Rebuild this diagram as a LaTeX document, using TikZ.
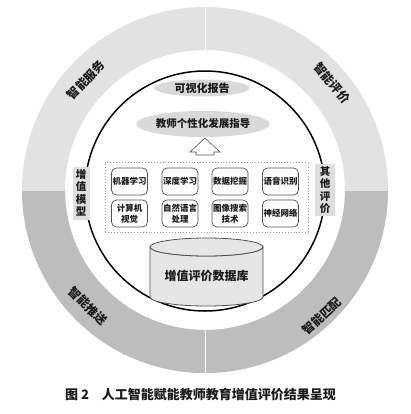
\documentclass[tikz,border=0pt]{standalone}
\usepackage{fontspec}
\setmainfont{Noto Sans CJK SC}
\usepackage{xcolor}
\usepackage{tikz}
\usetikzlibrary{shapes.geometric}
\definecolor{ringhi}{HTML}{E2E2E2}
\definecolor{ringlo}{HTML}{BDBDBD}
\definecolor{oval}{HTML}{D9D9D9}
\definecolor{tag}{HTML}{DEDEDE}
\definecolor{dbfill}{HTML}{E6E6E6}
\definecolor{edge}{HTML}{505050}
\definecolor{thin}{HTML}{9A9A9A}
\definecolor{ink}{HTML}{1A1A1A}
\tikzset{
  ringlab/.style={text=ink, font=\bfseries\fontsize{12}{12}\selectfont, inner sep=0pt},
  ovalnode/.style={ellipse, fill=oval, inner sep=0pt, text=ink, font=\bfseries\fontsize{10.5}{10.5}\selectfont},
  tagbox/.style={fill=tag, text=ink, align=center, inner sep=2pt, font=\bfseries\fontsize{10.5}{12.5}\selectfont},
  techbox/.style={draw=edge, fill=white, rounded corners=5pt, line width=0.7pt, minimum width=36pt, minimum height=27pt, inner sep=0pt, align=center, text=ink, font=\bfseries\fontsize{8.5}{11}\selectfont},
  dotframe/.style={draw=thin, dotted, line width=0.9pt, minimum width=203pt, minimum height=70pt, inner sep=0pt},
  cyl/.style={draw=edge, fill=dbfill, line width=0.8pt},
  uparrow/.style={draw=edge, fill=white, line width=0.6pt, line join=miter},
}

\begin{document}
\begin{tikzpicture}[x=1pt,y=-1pt]
  \useasboundingbox (0,0) rectangle (410,414);
  \coordinate (c) at (205,190);
  % outer ring, light top half and dark bottom half
  \fill[ringhi, even odd rule] (c) circle (183) (c) circle (140);
  \begin{scope}
    \clip (0,191) rectangle (410,380);
    \fill[ringlo, even odd rule] (c) circle (183) (c) circle (140);
  \end{scope}
  \draw[white, line width=1pt] (205,0) -- (205,55);
  \draw[white, line width=1pt] (205,325) -- (205,380);
  \node[ringlab, rotate=47] (serve) at (86,80) {智能服务};
  \node[ringlab, rotate=-50] (judge) at (332,83) {智能评价};
  \node[ringlab, rotate=-45] (push) at (88,306) {智能推送};
  \node[ringlab, rotate=43] (match) at (322,316) {智能匹配};
  % inner circle
  \draw[thin, line width=1.5pt] (205,191) circle (120);
  \node[tagbox, minimum width=17pt, minimum height=53pt] (model) at (81,193) {增\\值\\模\\型};
  \node[tagbox, minimum width=20pt, minimum height=50pt] (other) at (325,190) {其\\他\\评\\价};
  % report and guidance
  \node[ovalnode, minimum width=95pt, minimum height=17pt, font=\bfseries\fontsize{11}{11}\selectfont] (report) at (202,88) {可视化报告};
  \node[ovalnode, minimum width=120pt, minimum height=26pt] (guide) at (203,124) {教师个性化发展指导};
  \draw[uparrow] (190,152) -- (205,138) -- (220,152) -- (214,152) -- (214,155)
    -- (196,155) -- (196,152) -- cycle;
  % AI techniques
  \node[dotframe] (tech) at (206.5,197) {};
  \node[techbox] (ml) at (129.5,181.5) {机器学习};
  \node[techbox] (dl) at (180,181.5) {深度学习};
  \node[techbox] (dm) at (230,181.5) {数据挖掘};
  \node[techbox] (sr) at (280.5,181.5) {语音识别};
  \node[techbox] (cv) at (129.5,213.5) {计算机\\视觉};
  \node[techbox] (nlp) at (180,213.5) {自然语言\\处理};
  \node[techbox] (img) at (230,213.5) {图像搜索\\技术};
  \node[techbox] (nn) at (280.5,213.5) {神经网络};
  % database
  \filldraw[cyl] (150,247) -- (150,297) arc (180:0:56.5 and 9) -- (263,247)
    arc (0:180:56.5 and 9) -- cycle;
  \filldraw[cyl] (206.5,247) ellipse (56.5 and 9);
  \node[text=ink, font=\bfseries\fontsize{12}{12}\selectfont] (db) at (206.5,276) {增值评价数据库};
  \node[text=ink, font=\bfseries\fontsize{13}{13}\selectfont] (cap) at (200.5,395) {图 2\quad 人工智能赋能教师教育增值评价结果呈现};
\end{tikzpicture}
\end{document}
